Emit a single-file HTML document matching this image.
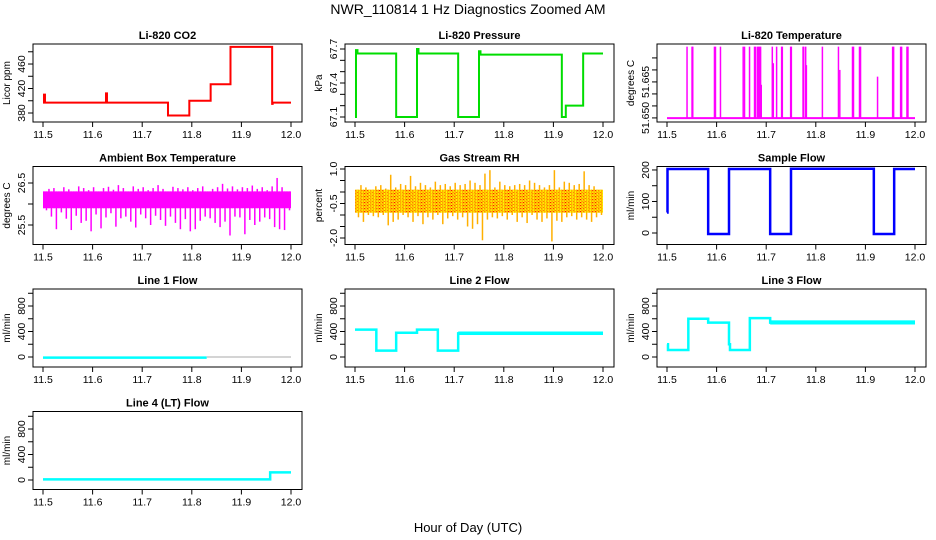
<!DOCTYPE html>
<html><head><meta charset="utf-8"><style>
html,body{margin:0;padding:0;background:#fff}
svg{display:block;font-family:"Liberation Sans",Arial,sans-serif}
</style></head><body>
<svg id="c" width="936" height="540" viewBox="0 0 936 540" xmlns="http://www.w3.org/2000/svg">
<defs>
<pattern id="rhpat" width="3" height="3" patternUnits="userSpaceOnUse"><rect width="3" height="3" fill="#ffff00"/><rect x="1" y="1" width="1.2" height="1.2" fill="#ff0000"/><rect x="0" y="0" width="0.8" height="0.8" fill="#ff3000"/></pattern>
</defs>
<text x="468" y="14" font-size="14" text-anchor="middle">NWR_110814  1 Hz Diagnostics Zoomed AM</text>
<text x="468" y="532" font-size="13" text-anchor="middle">Hour of Day (UTC)</text>
</svg>
<script>
const xTicks=[11.5,11.6,11.7,11.8,11.9,12.0];
const xTickLabels=["11.5","11.6","11.7","11.8","11.9","12.0"];
// CO2 step data
const co2X=[11.5,11.502,11.504,11.627,11.629,11.752,11.795,11.838,11.878,11.962,11.963];
const co2Y=[397,410,397,412,397,376,400,427,488,395,397];
// Pressure
const presX=[11.5,11.502,11.505,11.583,11.625,11.628,11.708,11.75,11.753,11.917,11.925,11.96];
const presY=[67.1,67.69,67.66,67.1,67.7,67.66,67.1,67.68,67.65,67.1,67.2,67.66];
// Li-820 temperature spikes
const tempSpikeX=[11.5404,11.5505,11.5519,11.5957,11.5977,11.6078,11.6536,11.6563,11.6664,11.6765,11.6786,11.6826,11.6846,11.6867,11.6887,11.69,11.7123,11.7143,11.721,11.7311,11.7325,11.7493,11.7507,11.7743,11.7756,11.7796,11.781,11.8133,11.8457,11.8484,11.874,11.876,11.8881,11.8902,11.9245,11.9549,11.9569,11.971,11.973,11.9838,11.9858];
const tempSpikeY=[51.6797,51.6797,51.6797,51.6797,51.6797,51.6797,51.6797,51.6797,51.6797,51.6797,51.6797,51.6797,51.6797,51.6797,51.6797,51.6638,51.6797,51.6728,51.6797,51.6797,51.6797,51.6797,51.6797,51.6797,51.6797,51.6797,51.672,51.6797,51.6797,51.670,51.6797,51.6797,51.6797,51.6797,51.6672,51.6797,51.6797,51.6797,51.6797,51.6797,51.6797];
const tempBase=51.6499;
// Ambient box temperature (per-bin extremes)
const ambHi=[26.30,26.36,26.38,26.30,26.40,26.35,26.30,26.42,26.38,26.33,26.40,26.30,26.38,26.41,26.34,26.45,26.38,26.30,26.42,26.36,26.40,26.33,26.38,26.45,26.36,26.30,26.41,26.38,26.35,26.40,26.33,26.38,26.42,26.30,26.36,26.40,26.48,26.37,26.42,26.35,26.40,26.38,26.44,26.36,26.40,26.33,26.42,26.62,26.40,26.30];
const ambLo=[25.85,25.70,25.40,25.80,25.65,25.38,25.72,25.55,25.60,25.35,25.75,25.42,25.68,25.78,25.46,25.66,25.70,25.58,25.44,25.75,25.66,25.50,25.72,25.62,25.48,25.70,25.55,25.40,25.64,25.35,25.40,25.60,25.70,25.66,25.55,25.45,25.58,25.25,25.70,25.68,25.28,25.62,25.50,25.58,25.68,25.64,25.45,25.40,25.38,25.85];
const ambCore=[25.90,26.30];
// Gas stream RH
const rhHi=[0.1,0.3,0.2,0.1,0.25,0.3,0.15,0.75,0.2,0.35,0.3,0.7,0.25,0.4,0.3,0.2,0.45,0.3,0.35,0.25,0.4,0.3,0.35,0.5,0.4,0.3,0.8,0.95,0.2,0.45,0.3,0.25,0.3,0.35,0.3,0.5,0.4,0.3,0.2,0.3,0.95,0.2,0.45,0.4,0.3,0.35,0.9,0.3,0.25,0.1];
const rhLo=[-1.1,-1.3,-1.0,-1.05,-1.1,-1.0,-1.45,-1.3,-1.2,-1.0,-1.1,-1.3,-1.05,-1.4,-1.1,-1.2,-1.0,-1.4,-1.15,-1.05,-1.2,-1.1,-1.5,-1.6,-1.4,-2.1,-1.2,-1.1,-1.15,-1.05,-1.2,-1.0,-1.3,-1.1,-1.35,-1.0,-1.2,-1.3,-1.15,-2.15,-1.25,-1.3,-1.1,-1.05,-1.2,-1.1,-1.2,-1.3,-1.1,-1.0];
const rhCore=[-0.9,0.1];
// Sample flow
const sfX=[11.5,11.501,11.583,11.625,11.708,11.75,11.917,11.958];
const sfY=[65,203,-3,203,-3,204,-3,203];
// Line flows
const l1X=[11.5,11.83];
const l1Y=[-10,0];
const l2X=[11.5,11.543,11.583,11.625,11.667,11.708];
const l2Y=[430,100,380,430,100,370];
const l3X=[11.5,11.502,11.543,11.583,11.625,11.627,11.667,11.708];
const l3Y=[200,110,600,540,200,110,610,540];
const l4X=[11.5,11.958];
const l4Y=[10,120];

const svg=document.getElementById('c');
const NS='http://www.w3.org/2000/svg';
function mk(tag,attrs,parent){const e=document.createElementNS(NS,tag);for(const k in attrs)e.setAttribute(k,attrs[k]);(parent||svg).appendChild(e);return e;}

function panel(col,row,name,title,ylab,ymin,ymax,yticks,ylabels){
  const g=mk('g',{});
  
  
  const L=33+312*col,R=302+312*col,T=44+122.5*row,B=122+122.5*row;
  const x0=43+312*col,x1=291+312*col;
  const sx=v=>x0+(v-11.5)/0.5*(x1-x0);
  const sy=v=>B-(v-ymin)/(ymax-ymin)*(B-T);
  const t=mk('text',{x:(L+R)/2,y:T-5,'font-size':11,'font-weight':'bold','text-anchor':'middle'},g);
  t.textContent=title;
  
  
  const yl=mk('text',{x:0,y:0,'font-size':10,'text-anchor':'middle',transform:`translate(${L-23},${(T+B)/2}) rotate(-90)`},g);
  yl.textContent=ylab;
  
  
  xTicks.forEach((v,i)=>{
    mk('line',{x1:sx(v),x2:sx(v),y1:B,y2:B+5,stroke:'#000','stroke-width':1},g);
    const tl=mk('text',{x:sx(v),y:B+16,'font-size':10.5,'text-anchor':'middle'},g);
    tl.textContent=xTickLabels[i];
    
    
  });
  yticks.forEach((v,i)=>{
    mk('line',{x1:L-5,x2:L,y1:sy(v),y2:sy(v),stroke:'#000','stroke-width':1},g);
    if(ylabels[i]){
      const tl=mk('text',{x:0,y:0,'font-size':10.5,'text-anchor':'middle',transform:`translate(${L-8},${sy(v)}) rotate(-90)`},g);
      tl.textContent=ylabels[i];
      
      
    }
  });
  const plot=mk('g',{},g);
  const box=mk('rect',{x:L,y:T,width:R-L,height:B-T,fill:'none',stroke:'#000','stroke-width':1},g);
  
  
  return {g:plot,sx,sy};
}
function step(p,xs,ys,end,color,w,name){
  let d='';
  for(let i=0;i<xs.length;i++){
    const xa=p.sx(xs[i]),xb=p.sx(i+1<xs.length?xs[i+1]:end),y=p.sy(ys[i]);
    d+=(i===0?'M':'L')+xa+','+y+'L'+xb+','+y;
  }
  const e=mk('path',{d,fill:'none',stroke:color,'stroke-width':w},p.g);
  
  
  return e;
}
function band(p,hi,lo,core,fill,spike,name){
  const n=hi.length,w=(p.sx(12)-p.sx(11.5))/n;
  const r=mk('rect',{x:p.sx(11.5),y:p.sy(core[1]),width:p.sx(12)-p.sx(11.5),height:p.sy(core[0])-p.sy(core[1]),fill},p.g);
  
  
  for(let i=0;i<n;i++){
    const xa=p.sx(11.5)+i*w;
    const xs=[xa+w*0.2,xa+w*0.7];
    const s1=mk('line',{x1:xs[0],x2:xs[0],y1:p.sy(hi[i]),y2:p.sy(core[0]),stroke:spike,'stroke-width':1.5},p.g);
    
    
    const s2=mk('line',{x1:xs[1],x2:xs[1],y1:p.sy(core[1]),y2:p.sy(lo[i]),stroke:spike,'stroke-width':1.5},p.g);
    
    
  }
}

// Row 1
let p=panel(0,0,'co2','Li-820 CO2','Licor ppm',365.3,492.7,[380,400,420,440,460,480],['380','','420','','460','']);
step(p,co2X,co2Y,12.0,'#ff0000',2,'co2-line');
p=panel(1,0,'pressure','Li-820 Pressure','kPa',67.056,67.744,[67.1,67.2,67.3,67.4,67.5,67.6,67.7],['67.1','','','67.4','','','67.7']);
step(p,presX,presY,12.0,'#00dd00',2,'pressure-line');
p=panel(2,0,'li820-temp','Li-820 Temperature','degrees C',51.6483,51.6808,[51.650,51.655,51.660,51.665,51.670,51.675],['51.650','','','51.665','','']);
{const bl=mk('line',{x1:p.sx(11.5),x2:p.sx(12),y1:p.sy(tempBase),y2:p.sy(tempBase),stroke:'#ff00ff','stroke-width':2},p.g);


tempSpikeX.forEach((v,i)=>{
  const s=mk('line',{x1:p.sx(v),x2:p.sx(v),y1:p.sy(tempBase),y2:p.sy(tempSpikeY[i]),stroke:'#ff00ff','stroke-width':1.5},p.g);
  
  
});}
// Row 2
p=panel(0,1,'ambient-temp','Ambient Box Temperature','degrees C',25.036,26.893,[25.5,26.0,26.5],['25.5','','26.5']);
band(p,ambHi,ambLo,ambCore,'#ff00ff','#ff00ff','ambient-temp');
p=panel(1,1,'gas-rh','Gas Stream RH','percent',-2.283,1.109,[-2,-1.5,-1,-0.5,0,0.5,1],['-2.0','','','-0.5','','','1.0']);
band(p,rhHi,rhLo,rhCore,'url(#rhpat)','#ffb000','gas-rh');
p=panel(2,1,'sample-flow','Sample Flow','ml/min',-36.5,211,[0,50,100,150,200],['0','','100','','200']);
step(p,sfX,sfY,12.0,'#0000ff',2.5,'sample-flow-line');
// Row 3
p=panel(0,2,'line1-flow','Line 1 Flow','ml/min',-157,1067,[0,200,400,600,800,1000],['0','','400','','800','']);
{const e=mk('line',{x1:p.sx(l1X[1]),x2:p.sx(12),y1:p.sy(l1Y[1]),y2:p.sy(l1Y[1]),stroke:'#aaaaaa','stroke-width':1},p.g);


step(p,[l1X[0]],[l1Y[0]],l1X[1],'#00ffff',2.5,'line1-flow-line');}
p=panel(1,2,'line2-flow','Line 2 Flow','ml/min',-157,1067,[0,200,400,600,800,1000],['0','','400','','800','']);
step(p,l2X,l2Y,12.0,'#00ffff',2.5,'line2-flow-line');
{const b=mk('rect',{x:p.sx(11.708),y:p.sy(400),width:p.sx(12)-p.sx(11.708),height:p.sy(345)-p.sy(400),fill:'#00ffff'},p.g);

}
p=panel(2,2,'line3-flow','Line 3 Flow','ml/min',-157,1067,[0,200,400,600,800,1000],['0','','400','','800','']);
step(p,l3X,l3Y,12.0,'#00ffff',2.5,'line3-flow-line');
{const b=mk('rect',{x:p.sx(11.708),y:p.sy(575),width:p.sx(12)-p.sx(11.708),height:p.sy(510)-p.sy(575),fill:'#00ffff'},p.g);

}
// Row 4
p=panel(0,3,'line4-flow','Line 4 (LT) Flow','ml/min',-149,1075,[0,200,400,600,800,1000],['0','','400','','800','']);
step(p,l4X,l4Y,12.0,'#00ffff',2.5,'line4-flow-line');
</script>
</body></html>
